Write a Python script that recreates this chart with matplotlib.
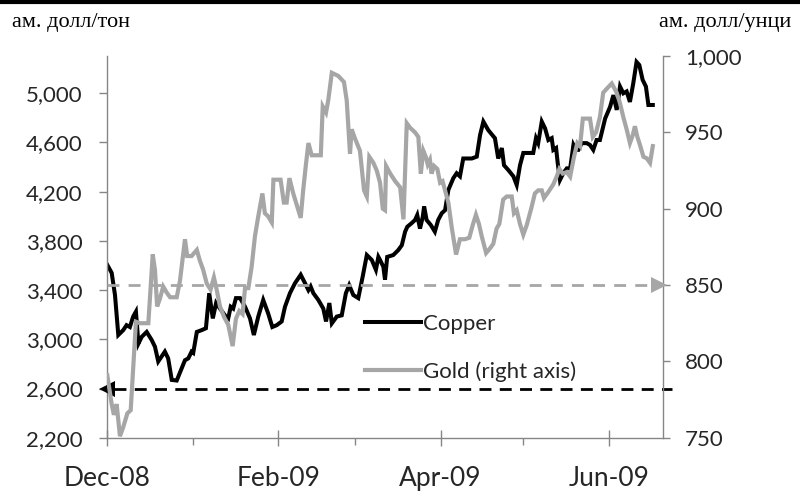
import matplotlib
matplotlib.use("Agg")
import matplotlib.pyplot as plt
import matplotlib.dates as mdates
import matplotlib.ticker as mticker
import matplotlib.transforms as mtransforms
from matplotlib.lines import Line2D
from datetime import datetime

# ---------------- data ----------------
start_date = datetime(2008, 12, 1)

copper_days = [0.0, 1.6, 2.8, 4.0, 5.8, 7.0, 8.2, 9.4, 10.4, 11.3,
               12.5, 14.3, 16.1, 17.3, 18.5, 19.7, 20.9, 22.1, 23.4, 25.2,
               27.0, 28.2, 29.4, 30.6, 31.2, 32.5, 34.3, 35.8, 37.0, 38.3,
               39.5, 40.9, 42.7, 43.9, 44.8, 45.7, 46.7, 48.2, 50.0, 51.8,
               53.2, 54.8, 56.6, 58.4, 59.9, 61.5, 63.3, 64.5, 66.3, 68.1,
               70.2, 71.8, 73.0, 73.8, 74.8, 76.6, 78.4, 79.4, 80.6, 81.5,
               83.3, 85.1, 86.6, 87.8, 89.3, 91.1, 92.7, 94.2, 96.0, 97.5,
               98.4, 99.0, 100.2, 100.8, 101.6, 103.8, 105.6, 106.9, 108.1, 108.9,
               110.5, 111.7, 112.5, 113.5, 114.5, 115.0, 115.9, 117.4, 118.9, 120.1,
               121.4, 122.6, 123.8, 125.6, 126.8, 128.0, 129.2, 132.3, 134.1, 135.3,
               136.5, 138.3, 140.7, 141.9, 143.2, 144.0, 145.6, 147.4, 148.6, 149.8,
               151.0, 154.6, 155.6, 156.4, 157.7, 158.9, 160.1, 161.3, 161.9, 162.9,
               163.5, 164.3, 165.5, 166.8, 168.0, 169.2, 170.1, 171.0, 172.2, 174.0,
               175.2, 176.4, 177.6, 178.8, 180.7, 182.5, 183.7, 184.9, 186.1, 187.3,
               188.5, 189.7, 190.9, 192.1, 193.1, 194.3, 195.5, 196.4, 198.0]

copper_usd_t = [3605, 3540, 3360, 3035, 3075, 3115, 3100, 3185, 3225, 2965,
                3020, 3060, 2995, 2940, 2820, 2860, 2900, 2845, 2670, 2665,
                2765, 2830, 2845, 2900, 2890, 3060, 3075, 3090, 3375, 3170,
                3295, 3250, 3195, 3170, 3265, 3250, 3335, 3335, 3265, 3170,
                3035, 3185, 3320, 3210, 3100, 3115, 3145, 3265, 3375, 3455,
                3525, 3455, 3400, 3430, 3375, 3320, 3250, 3145, 3295, 3130,
                3185, 3195, 3375, 3440, 3360, 3335, 3510, 3685, 3645, 3565,
                3670, 3645, 3590, 3485, 3670, 3685, 3725, 3765, 3875, 3915,
                3945, 3970, 4010, 3900, 3995, 4080, 3970, 3930, 3875, 3970,
                4025, 4050, 4215, 4310, 4350, 4325, 4470, 4470, 4485, 4660,
                4770, 4700, 4635, 4470, 4555, 4415, 4375, 4325, 4255, 4415,
                4515, 4515, 4635, 4595, 4770, 4715, 4620, 4635, 4540, 4555,
                4430, 4295, 4350, 4390, 4390, 4580, 4540, 4540, 4595, 4595,
                4580, 4540, 4620, 4620, 4795, 4890, 4985, 4865, 5055, 5000,
                5015, 4930, 5080, 5255, 5230, 5110, 5055, 4905, 4905]

gold_days = [0.0, 1.6, 2.4, 3.4, 4.6, 5.8, 7.3, 8.5, 9.4, 10.4,
             11.9, 14.9, 16.5, 17.3, 18.1, 19.1, 20.3, 21.6, 22.8, 25.2,
             26.4, 28.2, 29.0, 30.6, 32.5, 33.6, 34.8, 36.1, 37.5, 38.7,
             39.7, 40.9, 42.4, 43.9, 45.5, 46.7, 47.9, 49.1, 50.0, 51.2,
             52.4, 53.6, 54.8, 56.3, 57.2, 58.4, 59.7, 60.3, 62.9, 64.1,
             65.1, 66.1, 67.5, 69.0, 70.2, 71.1, 72.1, 73.0, 74.2, 77.5,
             78.2, 79.4, 80.2, 81.5, 83.8, 85.9, 86.9, 87.5, 88.1, 88.7,
             89.9, 91.7, 93.2, 94.2, 95.1, 96.6, 97.8, 99.0, 100.0, 100.8,
             101.2, 102.7, 104.5, 106.3, 107.5, 108.7, 109.9, 111.7, 112.9, 113.8,
             114.7, 115.6, 116.3, 117.1, 117.7, 118.6, 119.8, 120.8, 121.7, 122.6,
             123.8, 125.0, 126.6, 128.0, 129.8, 131.4, 132.6, 133.8, 134.9, 135.9,
             137.5, 138.9, 140.1, 141.3, 142.3, 143.7, 145.0, 146.8, 147.6, 148.6,
             149.8, 151.0, 152.2, 154.0, 155.2, 156.4, 157.7, 158.5, 160.1, 161.9,
             163.1, 164.1, 165.3, 166.8, 168.0, 169.4, 170.6, 171.6, 172.6, 175.2,
             176.2, 177.4, 178.8, 180.0, 181.5, 183.1, 184.9, 186.1, 187.3, 188.5,
             189.7, 190.7, 191.5, 192.4, 193.3, 194.6, 195.8, 197.0, 198.0]

gold_usd_oz = [791, 772, 765, 772, 751, 757, 766, 768, 796, 826,
               825, 825, 870, 860, 836, 841, 849, 845, 842, 842,
               853, 880, 869, 869, 873, 866, 860, 851, 847, 855,
               847, 836, 829, 824, 810, 828, 833, 831, 848, 848,
               862, 882, 895, 910, 897, 895, 891, 919, 919, 904,
               904, 920, 910, 901, 894, 912, 929, 943, 935, 935,
               967, 963, 971, 989, 987, 983, 971, 954, 936, 952,
               946, 938, 912, 908, 934, 930, 925, 917, 900, 899,
               928, 923, 918, 914, 893, 956, 953, 950, 947, 923,
               938, 934, 929, 932, 923, 928, 926, 917, 918, 912,
               904, 888, 870, 880, 880, 881, 889, 896, 890, 882,
               871, 874, 877, 887, 890, 906, 908, 908, 897, 899,
               890, 883, 889, 901, 910, 912, 912, 907, 911, 916,
               921, 926, 923, 924, 921, 934, 943, 941, 959, 959,
               947, 950, 960, 976, 979, 982, 976, 969, 960, 952,
               943, 948, 954, 947, 942, 934, 933, 930, 941]

copper_ref = 2600   # left axis reference level
gold_ref = 850      # right axis reference level

left_ticks = [2200, 2600, 3000, 3400, 3800, 4200, 4600, 5000]
right_ticks = [750, 800, 850, 900, 950, 1000]
left_unit = "ам. долл/тон"
right_unit = "ам. долл/унци"
series_names = ["Copper", "Gold (right axis)"]

# ---------------- styling ----------------
GREY_AX = "#868686"
GOLD_C = "#A6A6A6"
TXT_C = "#262626"
TICK_FONT = "Lato"
XTICK_FONT = ["Liberation Sans Narrow", "Lato"]
SERIF = "Liberation Serif"

base = mdates.date2num(start_date)
cx = [base + d for d in copper_days]
gx = [base + d for d in gold_days]

fig = plt.figure(figsize=(8.0, 4.91), dpi=100)
ax = fig.add_axes([0.1341, 0.1085, 0.6943, 0.7774])
ax2 = ax.twinx()

# series
l_cu, = ax.plot(cx, copper_usd_t, color="black", lw=2.9, solid_joinstyle="miter")
l_au, = ax2.plot(gx, gold_usd_oz, color=GOLD_C, lw=3.0, solid_joinstyle="miter")

ax.set_xlim(base, base + 201.6)
ax.set_ylim(2200, 5303)
ax2.set_ylim(750, 1000)

# reference dashed lines with arrow heads
bt1 = mtransforms.blended_transform_factory(ax.transAxes, ax.transData)
ax.plot([0.012, 1.017], [copper_ref, copper_ref], transform=bt1, color="black",
        lw=2.0, dashes=(4.3, 3.0), clip_on=False, zorder=3)
ax.plot([0.0], [copper_ref], transform=bt1, marker="<", ms=11, color="black",
        clip_on=False, zorder=4, markeredgewidth=0)

bt2 = mtransforms.blended_transform_factory(ax2.transAxes, ax2.transData)
ax2.plot([0.0, 0.985], [gold_ref, gold_ref], transform=bt2, color=GOLD_C,
         lw=2.0, dashes=(4.3, 3.3), clip_on=False, zorder=3)
ax2.plot([0.993], [gold_ref], transform=bt2, marker=">", ms=11, color=GOLD_C,
         clip_on=False, zorder=4, markeredgewidth=0)

# spines
for a in (ax, ax2):
    a.spines["top"].set_visible(False)
    for s in ("left", "right", "bottom"):
        a.spines[s].set_color(GREY_AX)
        a.spines[s].set_linewidth(1.0)
ax.spines["right"].set_visible(False)
ax2.spines["left"].set_visible(False)
ax2.spines["bottom"].set_visible(False)

# y ticks
ax.set_yticks(left_ticks)
ax.yaxis.set_major_formatter(mticker.StrMethodFormatter("{x:,.0f}"))
ax.tick_params(axis="y", direction="out", length=5.8, width=1.0, color=GREY_AX,
               labelsize=16, pad=12, labelcolor=TXT_C)
ax2.set_yticks(right_ticks)
ax2.yaxis.set_major_formatter(mticker.StrMethodFormatter("{x:,.0f}"))
ax2.tick_params(axis="y", direction="out", length=5.0, width=1.0, color=GREY_AX,
                labelsize=16, pad=11, labelcolor=TXT_C)
for lab in ax.get_yticklabels() + ax2.get_yticklabels():
    lab.set_fontfamily(TICK_FONT)

# x ticks
ax.xaxis.set_major_locator(mdates.MonthLocator(bymonth=(12, 2, 4, 6)))
ax.xaxis.set_minor_locator(mdates.MonthLocator())
ax.xaxis.set_major_formatter(mdates.DateFormatter("%b-%y"))
ax.tick_params(axis="x", which="major", direction="inout", length=11, width=1.0,
               color=GREY_AX, labelsize=19, pad=15, labelcolor=TXT_C)
ax.tick_params(axis="x", which="minor", direction="out", length=5, width=1.0,
               color=GREY_AX)
for lab in ax.get_xticklabels():
    lab.set_fontfamily(XTICK_FONT)

# legend
leg = ax2.legend([l_cu, l_au], series_names, loc="upper left",
                 bbox_to_anchor=(0.464, 0.325), frameon=False,
                 handlelength=2.5, handletextpad=0.13, labelspacing=1.26,
                 borderpad=0, borderaxespad=0,
                 prop={"family": TICK_FONT, "size": 16})
for t in leg.get_texts():
    t.set_color(TXT_C)

# unit labels
fig.text(11.7 / 800, 1 - 26.7 / 491, left_unit, family=SERIF, fontsize=16,
         ha="left", va="baseline", color="black")
fig.text(791 / 800, 1 - 26.7 / 491, right_unit, family=SERIF, fontsize=16,
         ha="right", va="baseline", color="black")

# top rule
fig.add_artist(Line2D([0, 1], [1 - 2 / 491, 1 - 2 / 491], transform=fig.transFigure,
                      color="black", lw=3.0))

fig.savefig("out.png", dpi=100)
